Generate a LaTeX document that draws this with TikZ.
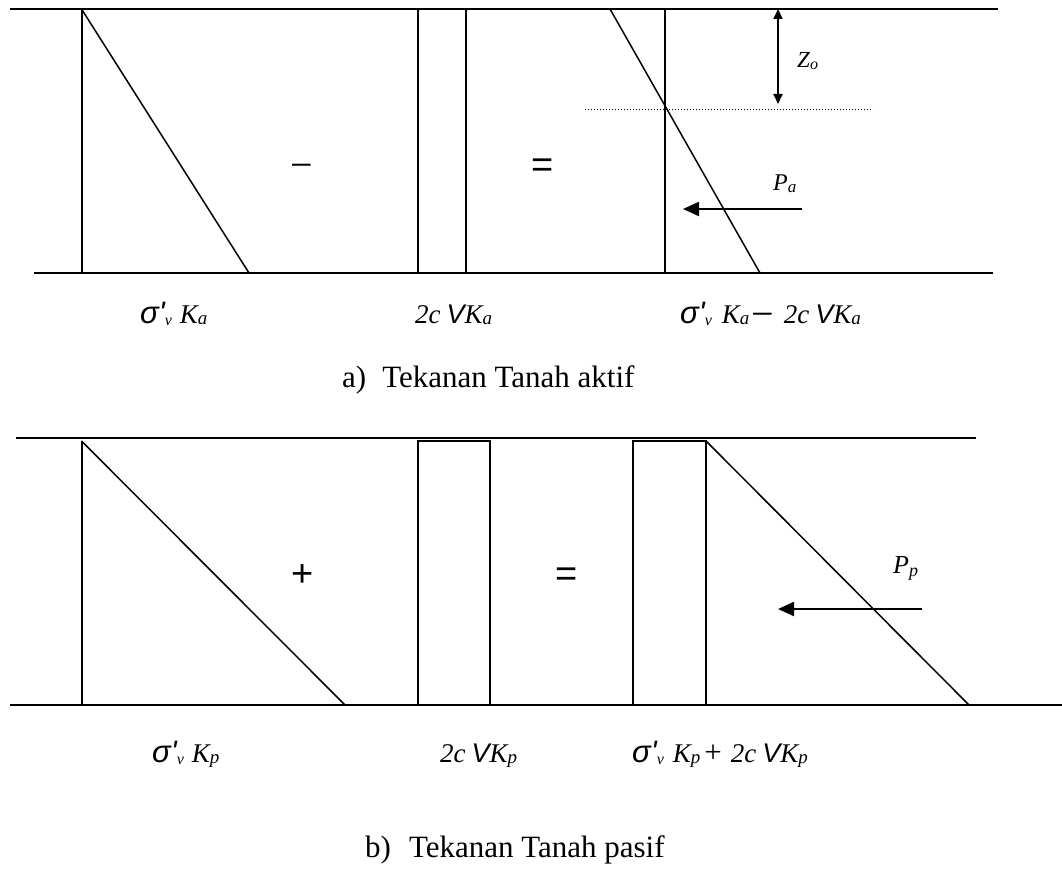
\documentclass[tikz,border=0pt]{standalone}
\usepackage{fontspec}
\setmainfont{Liberation Serif}
\newfontfamily\sansf{Liberation Sans}
\usetikzlibrary{arrows.meta}
\newcommand\fs[1]{\fontsize{#1}{#1}\selectfont}
\newcommand\mysig{{\sansf\itshape\fs{31}σ'}}
\newcommand\subv{\raisebox{-2pt}{\fs{16}\itshape v}}
\newcommand\Kx[1]{{\fs{27}\itshape K}\raisebox{-1pt}{\fs{19}\itshape #1}}
\newcommand\sqv{{\sansf\itshape\fs{27}V}}
\newcommand\twoc{{\fs{27}\itshape 2c}}
\tikzset{
  ln/.style={line width=2pt},
  dg/.style={line width=1.5pt},
  arr/.style={line width=2.2pt,-{Triangle[length=16pt,width=14pt]}},
  darr/.style={line width=2pt,{Triangle[length=10pt,width=9pt]}-{Triangle[length=10pt,width=9pt]}},
  lbl/.style={inner sep=0pt,anchor=base west},
  op/.style={inner sep=0pt,anchor=center}
}
\begin{document}
\begin{tikzpicture}[x=1pt,y=-1pt]
\useasboundingbox (0,0) rectangle (1062,872);
% ---------- panel a ----------
\draw[ln] (10,9) -- (998,9);
\draw[ln] (34,273) -- (993,273);
\draw[ln] (81.5,9) -- (81.5,273);
\draw[dg] (81.5,9) -- (249,273);
\draw[ln] (418,9) rectangle (466,273);
\draw[ln] (665,9) -- (665,273) -- (760,273);
\draw[dg] (610,9) -- (760,273);
\draw[line width=1pt,dash pattern=on 1.2pt off 1.8pt] (585,109.5) -- (873,109.5);
\coordinate (zt) at (778,9);
\coordinate (zb) at (778,104);
\draw[darr] (zt) -- (zb);
\coordinate (pas) at (802,209);
\coordinate (pae) at (683,209);
\draw[arr] (pas) -- (pae);
\node[op] (minus) at (302,171) {\fs{40}−};
\node[op] (eqa) at (543,168) {\sansf\fs{38}=};
\node[lbl] (zo) at (797,68) {{\fs{23}\itshape Z}\raisebox{-2pt}{\fs{16}\itshape o}};
\node[lbl] (pa) at (773,190) {{\fs{24}\itshape P}\raisebox{-2pt}{\fs{17}\itshape a}};
\node[lbl] (la1) at (140,323) {\mysig\subv\hspace{8pt}\Kx{a}};
\node[lbl] (la2) at (415,323) {\twoc\hspace{6pt}\sqv\Kx{a}};
\node[lbl] (la3) at (680,323) {\mysig\subv\hspace{10pt}\Kx{a}\hspace{2pt}\raisebox{-4pt}{\fs{40}−}\hspace{10pt}\twoc\hspace{6pt}\sqv\Kx{a}};
\node[lbl] (ta) at (342,387) {\fs{31}a)\hspace{16pt}Tekanan Tanah aktif};
% ---------- panel b ----------
\draw[ln] (16,437.5) -- (976,437.5);
\draw[ln] (10,705) -- (1062,705);
\draw[ln] (81.5,441) -- (81.5,705);
\draw[dg] (81.5,441) -- (345,705);
\draw[ln] (418,441) rectangle (490,705);
\draw[ln] (633,441) rectangle (706,705);
\draw[dg] (706,441) -- (969,705);
\coordinate (pps) at (922,609);
\coordinate (ppe) at (778,609);
\draw[arr] (pps) -- (ppe);
\node[op] (plus) at (303,576) {\sansf\fs{38}+};
\node[op] (eqb) at (567,577) {\sansf\fs{38}=};
\node[lbl] (pp) at (893,573) {{\fs{26}\itshape P}\raisebox{-3pt}{\fs{18}\itshape p}};
\node[lbl] (lb1) at (152,762) {\mysig\subv\hspace{8pt}\Kx{p}};
\node[lbl] (lb2) at (440,762) {\twoc\hspace{6pt}\sqv\Kx{p}};
\node[lbl] (lb3) at (632,762) {\mysig\subv\hspace{9pt}\Kx{p}\hspace{4pt}{\fs{31}+}\hspace{9pt}\twoc\hspace{6pt}\sqv\Kx{p}};
\node[lbl] (tb) at (365,857) {\fs{31}b)\hspace{18pt}Tekanan Tanah pasif};
\end{tikzpicture}
\end{document}
